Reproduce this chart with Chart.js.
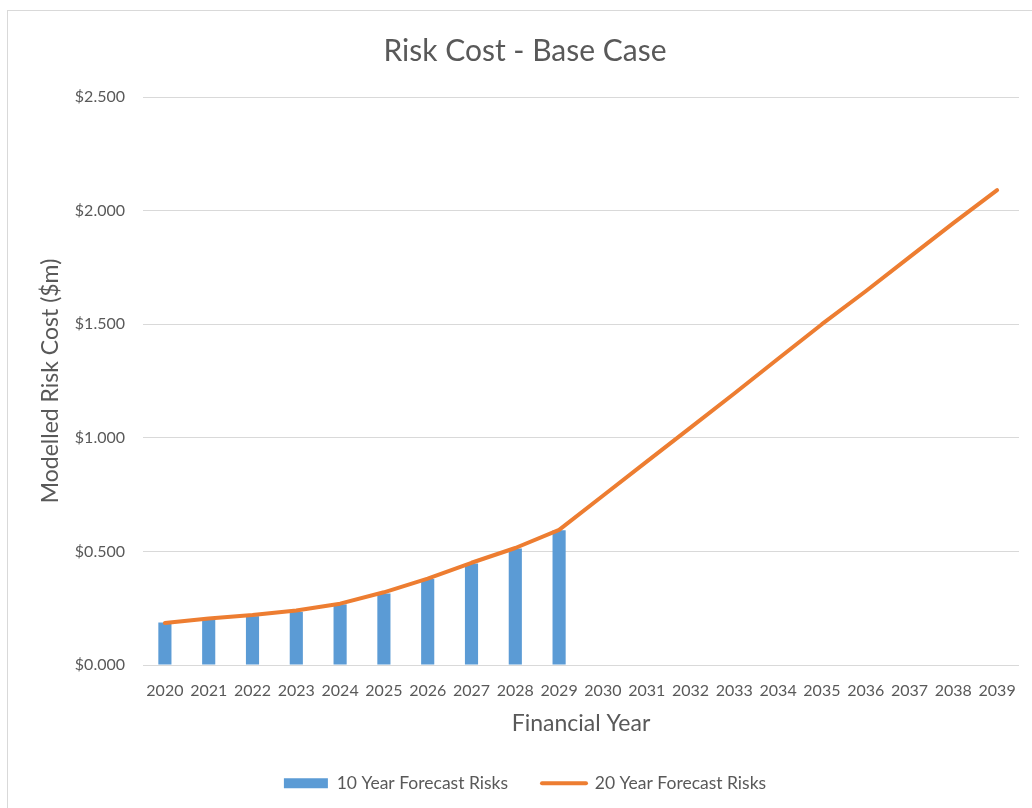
<!DOCTYPE html>
<html>
<head>
<meta charset="utf-8">
<script src="https://cdn.jsdelivr.net/npm/chart.js@4"></script>
<style>
  html, body { margin: 0; padding: 0; background: #ffffff; }
  body { width: 1032px; height: 808px; position: relative; overflow: hidden; }
  #frame { position: absolute; left: 7px; top: 10px; width: 1060px; height: 840px; border: 1px solid #d9d9d9; box-sizing: border-box; }
  #wrap { position: absolute; left: 0; top: 0; width: 1032px; height: 808px; }
</style>
</head>
<body>
<div id="frame"></div>
<div id="wrap"><canvas id="chart" width="1032" height="808"></canvas></div>
<script>
// Financial years shown on the x axis
const years = ['2020','2021','2022','2023','2024','2025','2026','2027','2028','2029',
               '2030','2031','2032','2033','2034','2035','2036','2037','2038','2039'];

// Modelled risk cost ($m) – 10 year forecast (bars, 2020–2029)
const tenYearRisks = [0.187, 0.202, 0.215, 0.234, 0.267, 0.315, 0.378, 0.447, 0.513, 0.593];

// Modelled risk cost ($m) – 20 year forecast (line, 2020–2039)
const twentyYearRisks = [0.185, 0.205, 0.220, 0.240, 0.270, 0.320, 0.380, 0.450, 0.515, 0.595,
                         0.745, 0.895, 1.045, 1.195, 1.348, 1.500, 1.645, 1.795, 1.945, 2.090];

// Y axis tick values
const yTicks = [0, 0.5, 1.0, 1.5, 2.0, 2.5];

const seriesNames = ['10 Year Forecast Risks', '20 Year Forecast Risks'];
const blue = '#5b9bd5';
const orange = '#ed7d31';
const textGrey = '#595959';
const gridGrey = '#d9d9d9';

Chart.defaults.font.family = 'Lato, "Open Sans", sans-serif';
Chart.defaults.color = textGrey;

new Chart(document.getElementById('chart'), {
  data: {
    labels: years,
    datasets: [
      {
        type: 'bar',
        label: seriesNames[0],
        data: tenYearRisks,
        backgroundColor: blue,
        borderWidth: 0,
        barPercentage: 0.3,
        categoryPercentage: 1.0,
        order: 1
      },
      {
        type: 'line',
        label: seriesNames[1],
        data: twentyYearRisks,
        borderColor: orange,
        backgroundColor: orange,
        borderWidth: 4,
        borderCapStyle: 'round',
        borderJoinStyle: 'round',
        pointRadius: 0,
        tension: 0,
        fill: false,
        order: 0
      }
    ]
  },
  options: {
    responsive: false,
    animation: false,
    layout: { padding: { left: 31, right: 13, top: 0, bottom: 6 } },
    plugins: {
      title: {
        display: true,
        text: 'Risk Cost - Base Case',
        color: textGrey,
        font: { size: 30, weight: 'normal' },
        padding: { top: 33, bottom: 28 }
      },
      legend: {
        position: 'bottom',
        labels: {
          color: textGrey,
          font: { size: 17.5 },
          usePointStyle: true,
          pointStyleWidth: 44,
          boxHeight: 10,
          padding: 34,
          generateLabels: (chart) => chart.data.datasets.map((ds, i) => ({
            text: ds.label,
            datasetIndex: i,
            fillStyle: ds.type === 'bar' ? blue : orange,
            strokeStyle: ds.type === 'bar' ? blue : orange,
            lineWidth: ds.type === 'bar' ? 0 : 4,
            lineCap: 'round',
            pointStyle: ds.type === 'bar' ? 'rect' : 'line',
            fontColor: textGrey,
            hidden: false
          }))
        }
      },
      tooltip: { enabled: false }
    },
    scales: {
      x: {
        grid: { display: false },
        border: { display: false },
        ticks: { color: textGrey, font: { size: 16 }, padding: 8, maxRotation: 0, autoSkip: false },
        title: {
          display: true,
          text: 'Financial Year',
          color: textGrey,
          font: { size: 23 },
          padding: { top: 0, bottom: 3 }
        },
        afterFit: (s) => { s.height = 75.5; }
      },
      y: {
        min: 0,
        max: 2.5,
        afterBuildTicks: (s) => { s.ticks = yTicks.map(v => ({ value: v })); },
        grid: { color: gridGrey, lineWidth: 1, drawTicks: false },
        border: { display: false },
        ticks: {
          color: textGrey,
          font: { size: 16 },
          padding: 18,
          callback: (v) => '$' + Number(v).toFixed(3)
        },
        title: {
          display: true,
          text: 'Modelled Risk Cost ($m)',
          color: textGrey,
          font: { size: 23 },
          padding: { top: 6, bottom: 0 }
        },
        afterFit: (s) => { s.width = 112; }
      }
    }
  }
});
</script>
</body>
</html>
